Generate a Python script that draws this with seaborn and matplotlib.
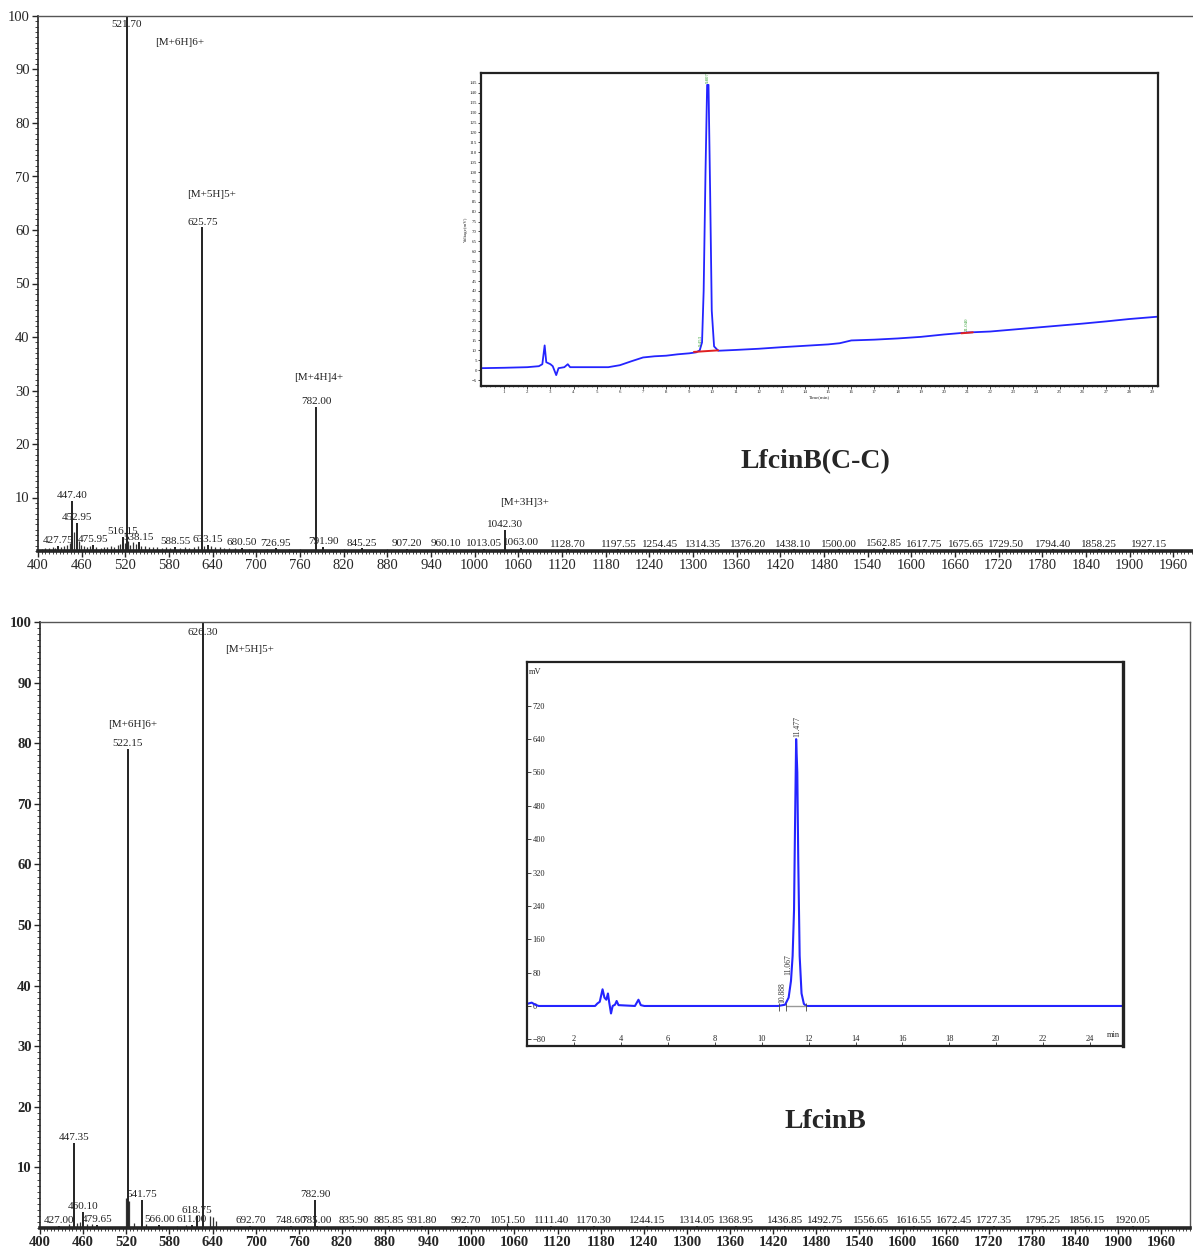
import matplotlib
matplotlib.use("Agg")
import matplotlib.pyplot as plt
import seaborn as sns
from matplotlib.ticker import MultipleLocator

W, H = 1193, 1257

# ---------- top spectrum: LfcinB(C-C) ----------
top_peak_mz = [427.75, 447.40, 452.95, 475.95, 516.15, 521.70, 538.15, 588.55, 625.75,
               633.15, 680.50, 726.95, 782.00, 791.90, 845.25, 907.20, 960.10, 1013.05,
               1042.30, 1063.00, 1128.70, 1197.55, 1254.45, 1314.35, 1376.20, 1438.10,
               1500.00, 1562.85, 1617.75, 1675.65, 1729.50, 1794.40, 1858.25, 1927.15]
top_peak_int = [0.9, 9.4, 5.3, 1.2, 2.6, 100.0, 1.6, 0.7, 60.5,
                1.2, 0.6, 0.5, 27.0, 0.8, 0.5, 0.4, 0.4, 0.4,
                3.9, 0.6, 0.3, 0.3, 0.3, 0.3, 0.3, 0.3,
                0.3, 0.5, 0.3, 0.3, 0.3, 0.3, 0.3, 0.3]
top_noise_mz = [405, 410, 415, 420, 424, 431, 436, 440, 444, 449.5, 456, 459, 463, 468,
                472, 480, 486, 490, 495, 500, 505, 510, 513, 519, 524, 527, 531, 535,
                542, 547, 552, 558, 563, 570, 576, 582, 595, 602, 608, 615, 620, 628,
                638, 643, 650, 656, 663, 670, 690, 700, 715, 745, 760, 820, 880, 1000]
top_noise_int = [0.4, 0.6, 0.5, 0.8, 0.6, 0.7, 0.9, 1.2, 1.5, 3.5, 1.8, 1.2, 1.0, 0.8,
                 0.9, 0.7, 0.6, 0.8, 0.7, 0.9, 0.8, 1.1, 1.4, 1.5, 1.8, 1.2, 1.6, 1.3,
                 1.0, 0.9, 0.8, 0.7, 0.8, 0.6, 0.7, 0.6, 0.6, 0.7, 0.6, 0.8, 0.9, 1.0,
                 0.9, 0.8, 0.7, 0.6, 0.6, 0.5, 0.4, 0.4, 0.4, 0.3, 0.3, 0.3, 0.3, 0.3]
top_ions = ["[M+6H]6+", "[M+5H]5+", "[M+4H]4+", "[M+3H]3+"]

# ---------- bottom spectrum: LfcinB ----------
bot_peak_mz = [427.00, 447.35, 460.10, 479.65, 522.15, 541.75, 566.00, 611.00, 618.75,
               626.30, 692.70, 748.60, 782.90, 785.00, 835.90, 885.85, 931.80, 992.70,
               1051.50, 1111.40, 1170.30, 1244.15, 1314.05, 1368.95, 1436.85, 1492.75,
               1556.65, 1616.55, 1672.45, 1727.35, 1795.25, 1856.15, 1920.05]
bot_peak_int = [0.3, 14.0, 2.6, 0.5, 79.0, 4.6, 0.5, 0.5, 2.0,
                100.0, 0.3, 0.3, 4.7, 0.3, 0.3, 0.3, 0.3, 0.3,
                0.3, 0.3, 0.3, 0.3, 0.3, 0.3, 0.3, 0.3,
                0.3, 0.3, 0.3, 0.3, 0.3, 0.3, 0.3]
bot_noise_mz = [440, 452, 456, 466, 472, 519.5, 524.5, 531, 548, 590, 603, 636, 641, 645, 1050]
bot_noise_int = [0.6, 0.8, 1.0, 0.6, 0.7, 5.0, 4.5, 0.8, 0.6, 0.4, 0.5, 2.0, 1.8, 1.2, 0.8]
bot_ions = ["[M+6H]6+", "[M+5H]5+"]

# ---------- top chromatogram (time min, mV) ----------
chrom1_t = [0, 1, 2, 2.5, 2.65, 2.75, 2.82, 3.0, 3.1, 3.25, 3.35, 3.6, 3.75, 3.85, 4.5,
            5.5, 6.0, 6.5, 7.0, 7.5, 8.0, 8.5, 9.0, 9.3, 9.45, 9.55, 9.62, 9.7, 9.77,
            9.83, 9.9, 9.97, 10.07, 10.25, 11, 12, 13, 14, 15, 15.5, 16, 17, 18, 19,
            20, 21, 22, 23, 24, 25, 26, 27, 28, 29.25]
chrom1_v = [1.0, 1.2, 1.5, 2.0, 3.0, 12.5, 4.0, 3.0, 2.0, -2.5, 1.0, 1.5, 3.0, 1.5, 1.5,
            1.5, 2.5, 4.5, 6.4, 7.0, 7.3, 8.0, 8.5, 9.0, 10.0, 14.0, 40.0, 100.0, 144.0,
            144.0, 90.0, 30.0, 12.0, 9.8, 10.2, 10.8, 11.6, 12.3, 13.0, 13.6, 15.0, 15.4,
            16.0, 16.8, 18.0, 19.0, 19.5, 20.5, 21.5, 22.5, 23.5, 24.6, 25.8, 27.0]

# ---------- bottom chromatogram (time min, mV) ----------
chrom2_t = [0, 0.2, 0.35, 0.5, 2.9, 3.0, 3.1, 3.22, 3.3, 3.38, 3.45, 3.5, 3.58, 3.65,
            3.75, 3.82, 3.9, 4.6, 4.68, 4.75, 4.85, 5.0, 10.7, 11.0, 11.15, 11.25, 11.32,
            11.38, 11.42, 11.47, 11.52, 11.56, 11.62, 11.7, 11.8, 11.9, 25.4]
chrom2_v = [5, 8, 3, 0, 0, 6, 10, 40, 20, 15, 30, 10, -18, 0,
            3, 12, 2, 0, 8, 15, 2, 0, 0, 3, 20, 60, 120,
            230, 420, 640, 560, 350, 120, 30, 5, 0, 0]

SERIF = ["Liberation Serif", "DejaVu Serif"]
sns.set_style("ticks")
plt.rcParams["font.family"] = SERIF
plt.rcParams["axes.linewidth"] = 1.0

fig = plt.figure(figsize=(W / 100, H / 100), dpi=100)


def px_axes(left, top, right, bottom):
    return fig.add_axes([left / W, 1 - bottom / H, (right - left) / W, (bottom - top) / H])


def draw_spectrum(ax, pk_mz, pk_int, nz_mz, nz_int, xmax, bold):
    weight = "bold" if bold else "normal"
    ax.vlines(nz_mz, 0, nz_int, color="#333333", lw=0.9)
    ax.vlines(pk_mz, 0, pk_int, color="#222222", lw=1.4)
    for mz, v in zip(pk_mz, pk_int):
        ax.text(mz, min(v + 0.15, 97.6), f"{mz:.2f}", ha="center", va="bottom",
                fontsize=8, color="#222222")
    ax.set_xlim(400, xmax)
    ax.set_ylim(0, 100)
    ax.set_xticks(range(400, 1961, 60))
    ax.set_yticks(range(10, 101, 10))
    ax.xaxis.set_minor_locator(MultipleLocator(5))
    ax.yaxis.set_minor_locator(MultipleLocator(1))
    ax.tick_params(axis="both", which="major", length=4, width=1, labelsize=10.5, pad=2)
    ax.tick_params(axis="both", which="minor", length=2, width=0.6)
    for lab in ax.get_xticklabels() + ax.get_yticklabels():
        lab.set_fontweight(weight)
    ax.spines["bottom"].set_linewidth(2.6)
    ax.spines["left"].set_linewidth(1.2)
    ax.spines["top"].set_color("#555555")
    ax.spines["right"].set_color("#555555")
    ax.set_xlabel("")
    ax.set_ylabel("")


# ---- top spectrum ----
ax1 = px_axes(38, 16, 1193, 551)
draw_spectrum(ax1, top_peak_mz, top_peak_int, top_noise_mz, top_noise_int, 1987, False)
ax1.spines["right"].set_visible(False)
for txt, (x, y) in zip(top_ions, [(594, 95.0), (638, 66.7), (786, 32.4), (1068, 9.0)]):
    ax1.text(x, y, txt, ha="center", va="center", fontsize=8, color="#222222")

# ---- bottom spectrum ----
ax2 = px_axes(40, 622, 1190, 1228)
draw_spectrum(ax2, bot_peak_mz, bot_peak_int, bot_noise_mz, bot_noise_int, 2000, True)
for txt, (x, y) in zip(bot_ions, [(529, 83.1), (692, 95.5)]):
    ax2.text(x, y, txt, ha="center", va="center", fontsize=8, color="#222222")

# ---- top inset chromatogram ----
in1 = px_axes(481, 73, 1158, 386)
sns.lineplot(x=chrom1_t, y=chrom1_v, ax=in1, color="#2424ff", lw=1.3,
             sort=False, estimator=None)
in1.plot([9.2, 10.25], [9.2, 10.0], color="#e02020", lw=1.4)
in1.plot([20.75, 21.25], [18.6, 19.1], color="#e02020", lw=1.4)
in1.text(9.8, 145, "9.807", rotation=90, fontsize=3.5, color="#2a9a2a", ha="center", va="bottom")
in1.text(9.5, 12, "9.453", rotation=90, fontsize=3.5, color="#2a9a2a", ha="center", va="bottom")
in1.text(21.0, 20, "21.040", rotation=90, fontsize=3.5, color="#2a9a2a", ha="center", va="bottom")
in1.set_xlim(0, 29.25)
in1.set_ylim(-8, 150)
in1.set_xticks(range(1, 30))
in1.set_yticks(range(-5, 146, 5))
in1.xaxis.set_minor_locator(MultipleLocator(0.2))
in1.tick_params(axis="both", which="major", labelsize=3.5, length=2, width=0.6, pad=1)
in1.tick_params(axis="both", which="minor", length=1, width=0.4)
for s in in1.spines.values():
    s.set_linewidth(1.6)
    s.set_color("#222222")
in1.set_xlabel("Time(min)", fontsize=3.5, labelpad=1)
in1.set_ylabel("Voltage(mV)", fontsize=3.5, labelpad=1)

# ---- bottom inset chromatogram ----
in2 = px_axes(527, 662, 1123, 1046)
sns.lineplot(x=chrom2_t, y=chrom2_v, ax=in2, color="#2424ff", lw=1.5,
             sort=False, estimator=None)
in2.plot([11.05, 11.9], [0, 0], color="#999999", lw=1.0)
in2.vlines([10.75, 11.05, 11.9], -12, 8, color="#444444", lw=0.6)
in2.text(10.89, 8, "10.888", rotation=90, fontsize=5.5, color="#333333", ha="center", va="bottom")
in2.text(11.12, 75, "11.067", rotation=90, fontsize=5.5, color="#333333", ha="center", va="bottom")
in2.text(11.50, 645, "11.477", rotation=90, fontsize=5.5, color="#333333", ha="center", va="bottom")
in2.set_xlim(0, 25.4)
in2.set_ylim(-96, 825)
in2.set_xticks(range(2, 25, 2))
in2.set_yticks(range(-80, 721, 80))
in2.tick_params(axis="x", which="major", labelsize=6, length=3, width=0.6,
                direction="in", pad=-2.5)
in2.tick_params(axis="y", which="major", labelsize=6, length=3, width=0.6,
                direction="in", pad=-4)
for lab in in2.get_yticklabels():
    lab.set_horizontalalignment("left")
for lab in in2.get_xticklabels():
    lab.set_verticalalignment("bottom")
for s in in2.spines.values():
    s.set_linewidth(1.6)
    s.set_color("#222222")
in2.spines["right"].set_linewidth(2.4)
in2.text(0.003, 0.985, "mV", transform=in2.transAxes, fontsize=6, ha="left", va="top")
in2.text(0.995, 0.018, "min", transform=in2.transAxes, fontsize=6, ha="right", va="bottom")
in2.set_xlabel("")
in2.set_ylabel("")

# ---- peptide names ----
fig.text(815 / W, 1 - 462 / H, "LfcinB(C-C)", ha="center", va="center",
         fontsize=20, fontweight="bold", family=SERIF)
fig.text(825 / W, 1 - 1122 / H, "LfcinB", ha="center", va="center",
         fontsize=20, fontweight="bold", family=SERIF)

fig.savefig("out.png", dpi=100)
